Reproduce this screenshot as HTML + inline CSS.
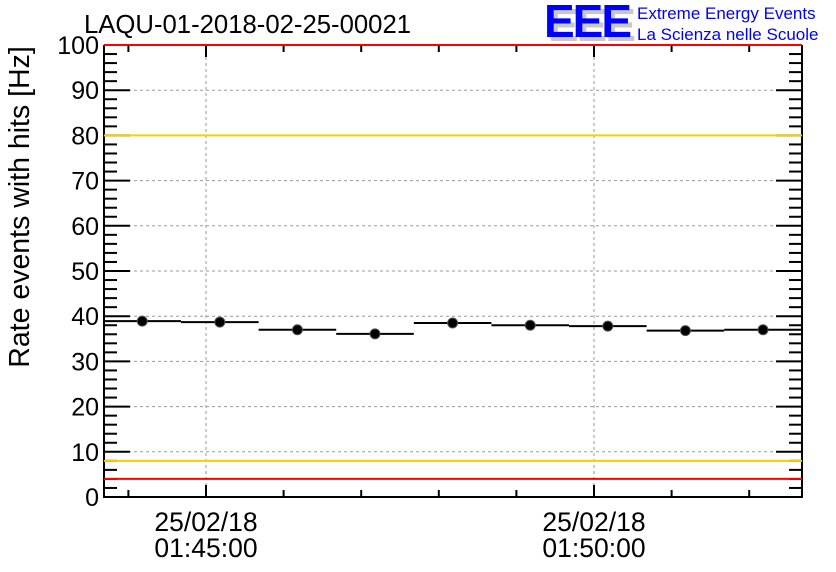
<!DOCTYPE html>
<html><head><meta charset="utf-8"><style>
body{margin:0;background:#fff;}
svg{display:block;font-family:"Liberation Sans",sans-serif;}
</style></head><body>
<svg id="chart" width="836" height="572" viewBox="0 0 836 572" xmlns="http://www.w3.org/2000/svg">
<rect width="836" height="572" fill="#fff"/>
<text x="84" y="33" font-size="25.7" fill="#000">LAQU-01-2018-02-25-00021</text>
<g>
<text x="548" y="41" font-size="46" font-weight="bold" fill="#c8c8c8" letter-spacing="-2">EEE</text>
<text x="544" y="37" font-size="46" font-weight="bold" fill="#0000ff" letter-spacing="-2">EEE</text>
<text x="637" y="19" font-size="17" fill="#0000ff">Extreme Energy Events</text>
<text x="637" y="40" font-size="17" fill="#0000ff">La Scienza nelle Scuole</text>
</g>
<text transform="translate(29,207) rotate(-90)" text-anchor="middle" font-size="28.5" fill="#000">Rate events with hits [Hz]</text>
<g id="grid"></g><g id="lines"></g><g id="axes"></g><g id="series"></g>
</svg>
<script>
const values=[38.9,38.7,37.0,36.1,38.5,38.0,37.8,36.8,37.0];
const yTicks=[0,10,20,30,40,50,60,70,80,90,100];
const xMajorMinutes=[0,5];
const xLabelsDate=["25/02/18","25/02/18"];
const xLabelsTime=["01:45:00","01:50:00"];
const refLines=[{v:100,c:"#ff0000"},{v:80,c:"#ffcc00"},{v:8,c:"#ffcc00"},{v:4,c:"#ff0000"}];
const startMinute=-1.322;
const L=104,R=802,T=45,B=497,minPx=77.6,x0=206;
const y=v=>B-(v/100)*(B-T);
const x=m=>x0+m*minPx;
const NS="http://www.w3.org/2000/svg";
function mk(p,t,a){const e=document.createElementNS(NS,t);for(const k in a)e.setAttribute(k,a[k]);document.getElementById(p).appendChild(e);return e;}
yTicks.forEach(v=>{if(v>0&&v<100){const g=mk('grid','line',{x1:L,x2:R,y1:y(v),y2:y(v),stroke:'#999','stroke-dasharray':'3,3','stroke-width':1});

}});
xMajorMinutes.forEach(m=>{const g=mk('grid','line',{x1:x(m),x2:x(m),y1:T,y2:B,stroke:'#999','stroke-dasharray':'3,3','stroke-width':1});

});
const ax=mk('axes','path',{d:`M${L},${T} L${L},${B} L${R},${B} L${R},${T}`,fill:'none',stroke:'#000','stroke-width':2});


for(let v=0;v<=100;v+=2){const major=v%10===0,len=major?26:13;
mk('axes','line',{x1:L,x2:L+len,y1:y(v),y2:y(v),stroke:'#000','stroke-width':2});
mk('axes','line',{x1:R,x2:R-len,y1:y(v),y2:y(v),stroke:'#000','stroke-width':2});}
yTicks.forEach(v=>{const t=mk('axes','text',{x:L-5,y:y(v)+9,'text-anchor':'end','font-size':25});t.textContent=v;

});
for(let m=-1;m<=7;m++){const major=m%5===0,len=major?12:7;
mk('axes','line',{x1:x(m),x2:x(m),y1:B,y2:B-len,stroke:'#000','stroke-width':2});
mk('axes','line',{x1:x(m),x2:x(m),y1:T,y2:T+len,stroke:'#000','stroke-width':2});}
xMajorMinutes.forEach((m,i)=>{const a=mk('axes','text',{x:x(m),y:531,'text-anchor':'middle','font-size':26.5});a.textContent=xLabelsDate[i];


const b=mk('axes','text',{x:x(m),y:557,'text-anchor':'middle','font-size':26.5});b.textContent=xLabelsTime[i];

});
refLines.forEach(r=>{const l=mk('lines','line',{x1:L,x2:R,y1:y(r.v),y2:y(r.v),stroke:r.c,'stroke-width':2});

});
document.getElementById('chart').appendChild(document.getElementById('lines'));
document.getElementById('chart').appendChild(document.getElementById('series'));
values.forEach((v,i)=>{const a=startMinute+i,bx=x(a),ex=x(a+1),cx=(bx+ex)/2;
const l=mk('series','line',{x1:bx,x2:ex,y1:y(v),y2:y(v),stroke:'#000','stroke-width':2});


const c=mk('series','circle',{cx:cx,cy:y(v),r:5,fill:'#000',stroke:'#555','stroke-width':1});

});
</script>
</body></html>
